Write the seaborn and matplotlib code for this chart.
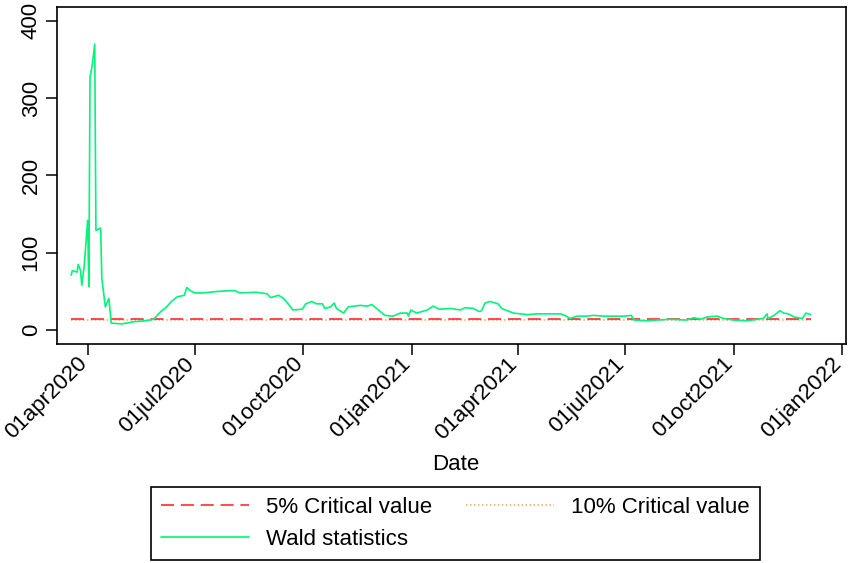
import matplotlib
matplotlib.use("Agg")
import matplotlib.pyplot as plt
import matplotlib.transforms as mtransforms
import pandas as pd
import seaborn as sns

# Rolling Wald test statistic by date
dates = [
    "2020-03-18", "2020-03-19", "2020-03-23", "2020-03-24", "2020-03-26",
    "2020-03-27", "2020-03-29", "2020-04-01", "2020-04-02", "2020-04-03",
    "2020-04-05", "2020-04-07", "2020-04-08", "2020-04-12", "2020-04-13",
    "2020-04-16", "2020-04-19", "2020-04-21", "2020-04-30", "2020-05-11",
    "2020-05-20", "2020-05-27", "2020-06-02", "2020-06-07", "2020-06-11",
    "2020-06-16", "2020-06-22", "2020-06-24", "2020-06-27", "2020-07-01",
    "2020-07-07", "2020-07-14", "2020-07-20", "2020-07-31", "2020-08-04",
    "2020-08-08", "2020-08-22", "2020-08-31", "2020-09-03", "2020-09-10",
    "2020-09-14", "2020-09-18", "2020-09-22", "2020-09-30", "2020-10-03",
    "2020-10-08", "2020-10-12", "2020-10-17", "2020-10-19", "2020-10-24",
    "2020-10-27", "2020-10-29", "2020-11-04", "2020-11-08", "2020-11-18",
    "2020-11-24", "2020-11-28", "2020-12-02", "2020-12-09", "2020-12-16",
    "2020-12-22", "2020-12-28", "2020-12-29", "2020-12-31", "2021-01-05",
    "2021-01-14", "2021-01-19", "2021-01-24", "2021-02-03", "2021-02-11",
    "2021-02-15", "2021-02-22", "2021-02-27", "2021-03-01", "2021-03-04",
    "2021-03-08", "2021-03-15", "2021-03-18", "2021-03-28", "2021-04-09",
    "2021-04-17", "2021-04-30", "2021-05-07", "2021-05-12", "2021-05-15",
    "2021-05-21", "2021-05-29", "2021-06-04", "2021-06-13", "2021-06-21",
    "2021-06-30", "2021-07-06", "2021-07-08", "2021-07-19", "2021-07-28",
    "2021-08-08", "2021-08-22", "2021-08-28", "2021-09-03", "2021-09-08",
    "2021-09-17", "2021-09-22", "2021-10-01", "2021-10-12", "2021-10-21",
    "2021-10-26", "2021-10-29", "2021-10-30", "2021-11-04", "2021-11-09",
    "2021-11-12", "2021-11-16", "2021-11-21", "2021-11-28", "2021-12-01",
    "2021-12-05",
]
wald = [
    71, 77, 75, 85, 77,
    58, 82, 142, 56, 327,
    344, 370, 129, 132, 67,
    30, 41, 9, 8, 11,
    12, 14, 24, 30, 37,
    43, 45, 55, 51, 48,
    48, 49, 50, 51, 51,
    48, 49, 47, 42, 45,
    41, 34, 26, 27, 34,
    37, 34, 34, 28, 30,
    35, 28, 22, 30, 32,
    31, 33, 28, 19, 18,
    22, 22, 18, 26, 22,
    26, 31, 27, 28, 26,
    29, 28, 24, 25, 35,
    37, 34, 28, 22, 20,
    21, 21, 21, 18, 15,
    18, 18, 19, 18, 18,
    18, 19, 13, 12, 13,
    14, 13, 16, 14, 17,
    18, 15, 13, 12, 14,
    15, 21, 15, 19, 25,
    22, 21, 17, 15, 22,
    20,
]
crit_5 = 14.0
crit_10 = 13.5

tick_dates = ["2020-04-01", "2020-07-01", "2020-10-01", "2021-01-01",
              "2021-04-01", "2021-07-01", "2021-10-01", "2022-01-01"]
y_ticks = [0, 100, 200, 300, 400]

sns.set_theme(style="ticks")
plt.rcParams["font.family"] = ["Liberation Sans", "DejaVu Sans"]
plt.rcParams["axes.edgecolor"] = "black"
plt.rcParams["xtick.color"] = "black"
plt.rcParams["ytick.color"] = "black"
plt.rcParams["text.color"] = "black"
plt.rcParams["axes.labelcolor"] = "black"

FS = 16

df = pd.DataFrame({"Date": pd.to_datetime(dates), "wald": wald})
df["cv5"] = crit_5
df["cv10"] = crit_10

W, H = 848, 563
fig = plt.figure(figsize=(W / 100, H / 100), dpi=100)
ax = fig.add_axes([57 / W, 1 - 344 / H, (846 - 57) / W, (344 - 7) / H])

sns.lineplot(data=df, x="Date", y="cv10", ax=ax, color="#f5a65b",
             linewidth=1.1, linestyle=(0, (1, 1.6)), label="10% Critical value")
sns.lineplot(data=df, x="Date", y="cv5", ax=ax, color="#ff1a1a",
             linewidth=1.1, linestyle=(0, (8.5, 4.5)), label="5% Critical value")
sns.lineplot(data=df, x="Date", y="wald", ax=ax, color="#00f57a",
             linewidth=1.2, label="Wald statistics")

ax.set_xlim(pd.Timestamp("2020-03-06"), pd.Timestamp("2022-01-04"))
ax.set_ylim(-18, 418)

ax.tick_params(axis="both", length=8, width=1.1)
ax.tick_params(axis="x", pad=4)
ax.tick_params(axis="y", pad=3)

ticks = pd.to_datetime(tick_dates)
ax.set_xticks(ticks)
ax.set_xticklabels([t.strftime("%d%b%Y").lower() for t in ticks],
                   rotation=45, ha="right", va="center",
                   rotation_mode="anchor", fontsize=FS)
# nudge the slanted date labels left so the last one stays inside the figure
shift = mtransforms.ScaledTranslation(-4 / 100, 0, fig.dpi_scale_trans)
for lbl in ax.get_xticklabels():
    lbl.set_transform(lbl.get_transform() + shift)

ax.set_yticks(y_ticks)
ax.set_yticklabels([str(v) for v in y_ticks], rotation=90, va="center",
                   fontsize=FS)

for s in ax.spines.values():
    s.set_visible(True)
    s.set_linewidth(1.2)
    s.set_color("black")

ax.set_ylabel("")
ax.set_xlabel("Date", fontsize=FS)
ax.xaxis.set_label_coords(0.506, -0.326)

handles, labels = ax.get_legend_handles_labels()
order = [labels.index("5% Critical value"),
         labels.index("Wald statistics"),
         labels.index("10% Critical value")]
ax.get_legend().remove()
leg = fig.legend([handles[i] for i in order], [labels[i] for i in order],
                 loc="center", bbox_to_anchor=(455.5 / W, 1 - 523.5 / H),
                 ncol=2, fontsize=FS, frameon=True, fancybox=False,
                 framealpha=1, edgecolor="black", handlelength=3.95,
                 handletextpad=0.8, columnspacing=1.5, labelspacing=0.5,
                 borderpad=0.45, borderaxespad=0)
leg.get_frame().set_linewidth(1.2)

fig.savefig("out.png", dpi=100, facecolor="white")
